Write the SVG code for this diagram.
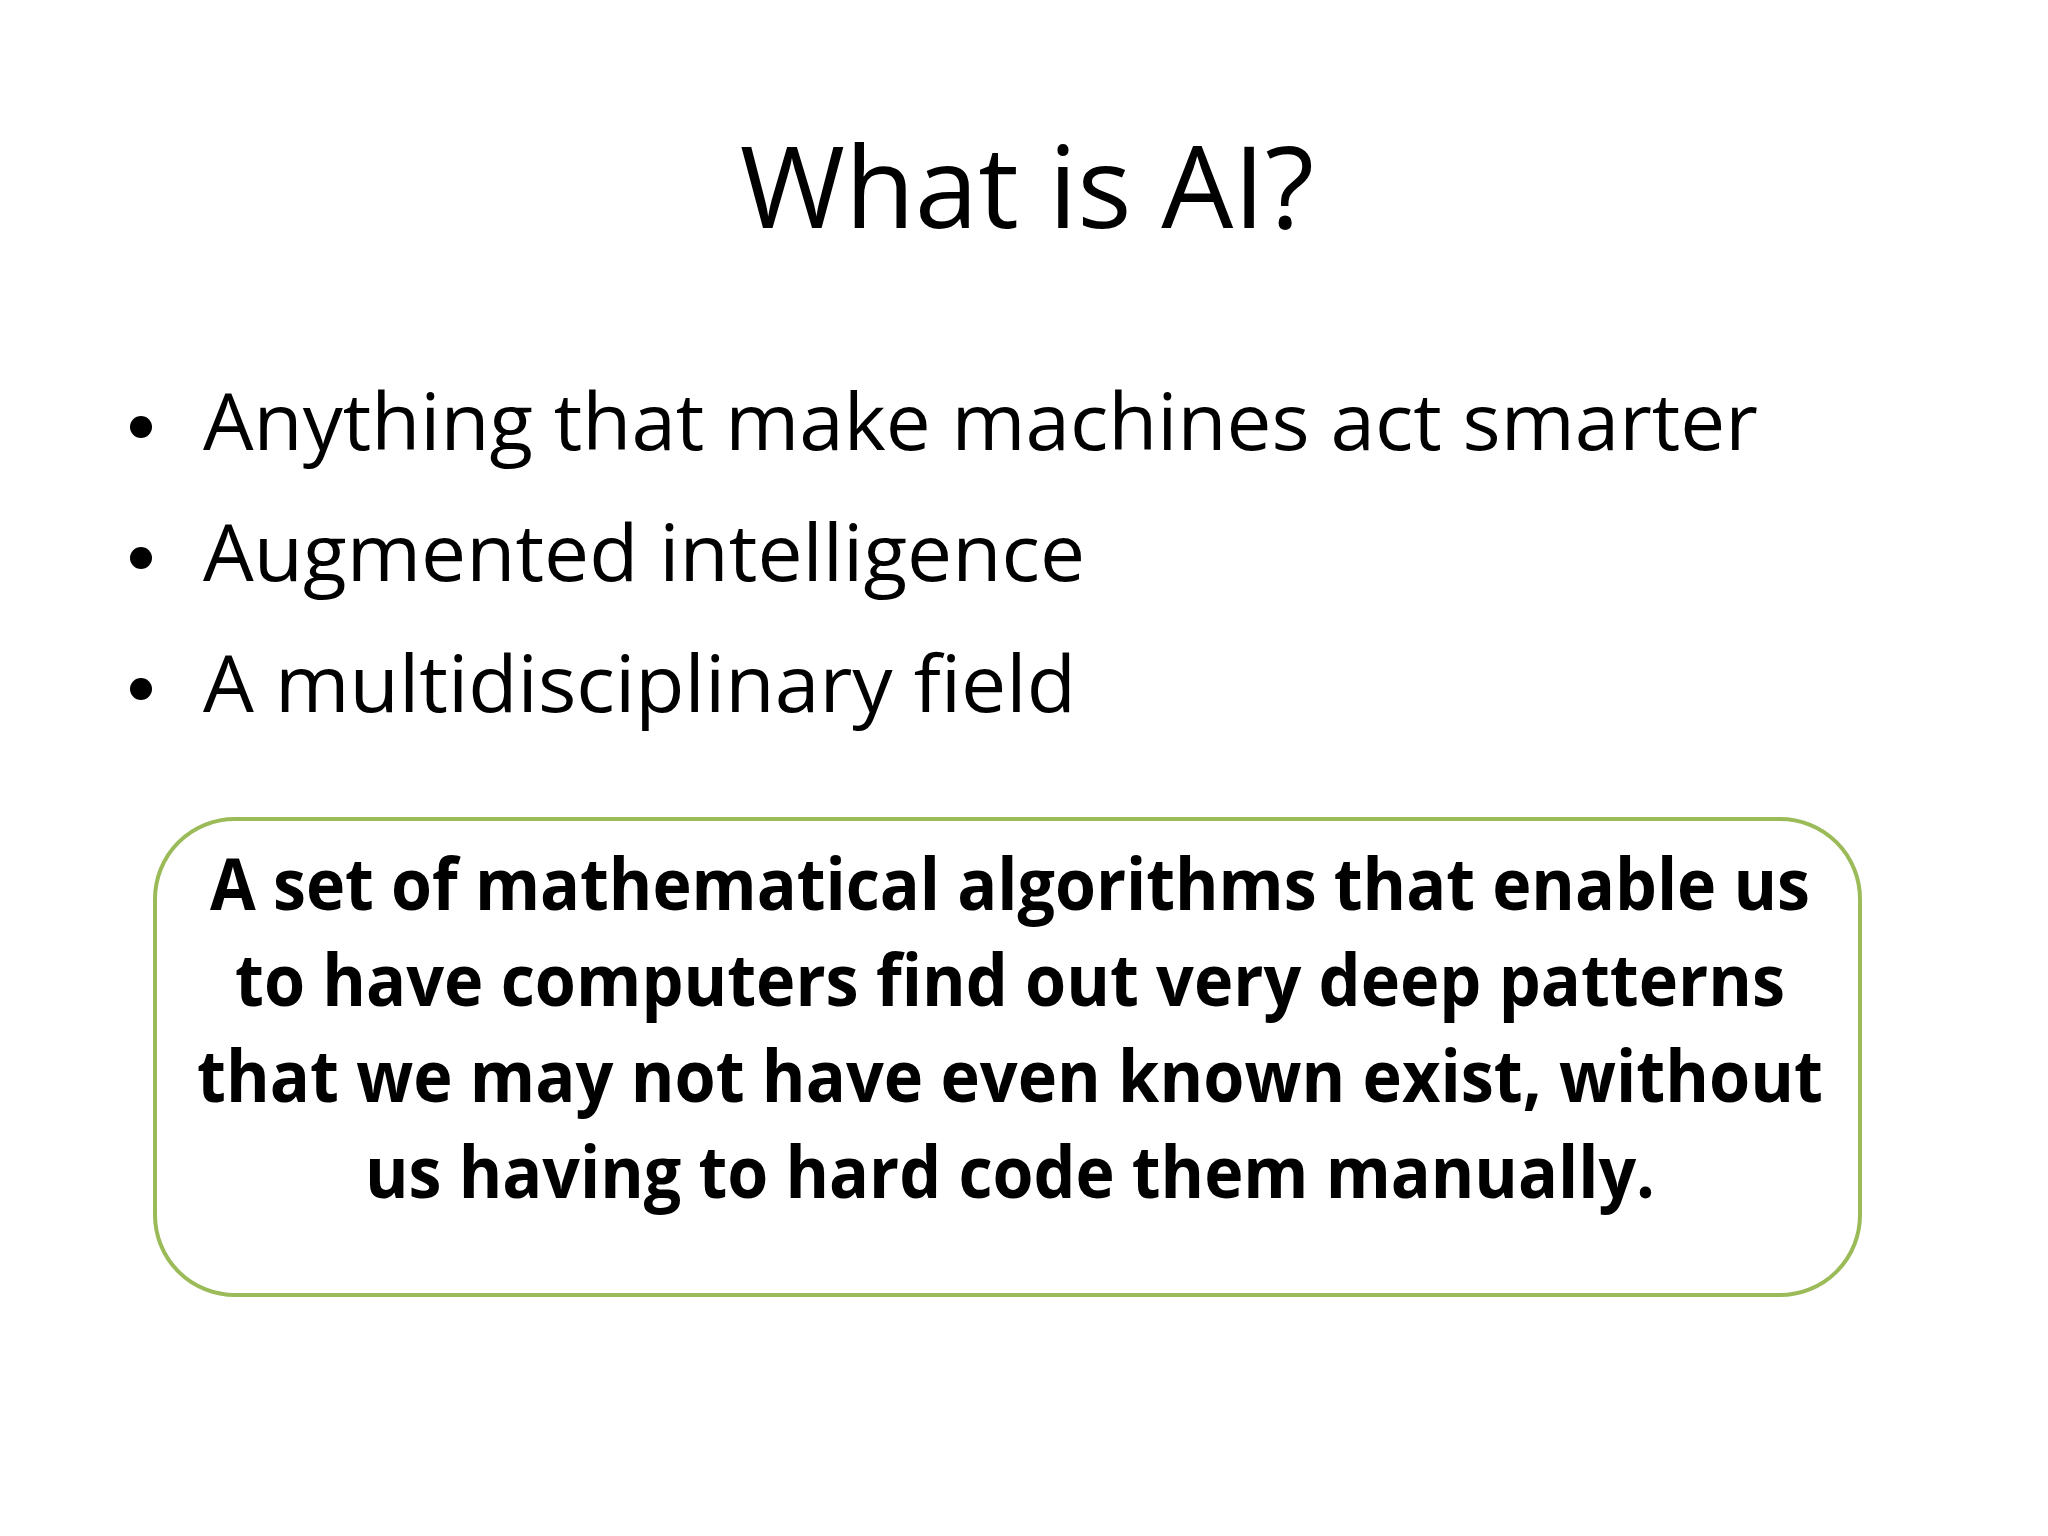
<svg xmlns="http://www.w3.org/2000/svg" width="2048" height="1536" viewBox="0 0 2048 1536">
<style>
.t{font-family:"Open Sans","Noto Sans",sans-serif;fill:#000}
.b{font-family:"Open Sans","Noto Sans",sans-serif;font-weight:bold;fill:#000;font-size:72px;text-anchor:middle}
</style>
<rect width="2048" height="1536" fill="#fff"/>
<g id="title"><text class="t" x="1027" y="228" font-size="114" text-anchor="middle">What is AI?</text></g>
<g id="bullets" class="t" font-size="79">
<circle cx="141" cy="427" r="11" fill="#000"/>
<text x="203" y="450" textLength="1555" lengthAdjust="spacingAndGlyphs">Anything that make machines act smarter</text>
<circle cx="141" cy="558" r="11" fill="#000"/>
<text x="203" y="581" textLength="882" lengthAdjust="spacingAndGlyphs">Augmented intelligence</text>
<circle cx="141" cy="689" r="11" fill="#000"/>
<text x="203" y="712" textLength="873" lengthAdjust="spacingAndGlyphs">A multidisciplinary field</text>
</g>
<g id="box">
<rect x="155" y="819" width="1705" height="476" rx="80" fill="#fff" stroke="#9BBB59" stroke-width="4"/>
<text class="b" x="1010" y="910" textLength="1600" lengthAdjust="spacingAndGlyphs">A set of mathematical algorithms that enable us</text>
<text class="b" x="1010" y="1006" textLength="1550" lengthAdjust="spacingAndGlyphs">to have computers find out very deep patterns</text>
<text class="b" x="1010" y="1102" textLength="1626" lengthAdjust="spacingAndGlyphs">that we may not have even known exist, without</text>
<text class="b" x="1010" y="1198" textLength="1290" lengthAdjust="spacingAndGlyphs">us having to hard code them manually.</text>
</g>
</svg>
